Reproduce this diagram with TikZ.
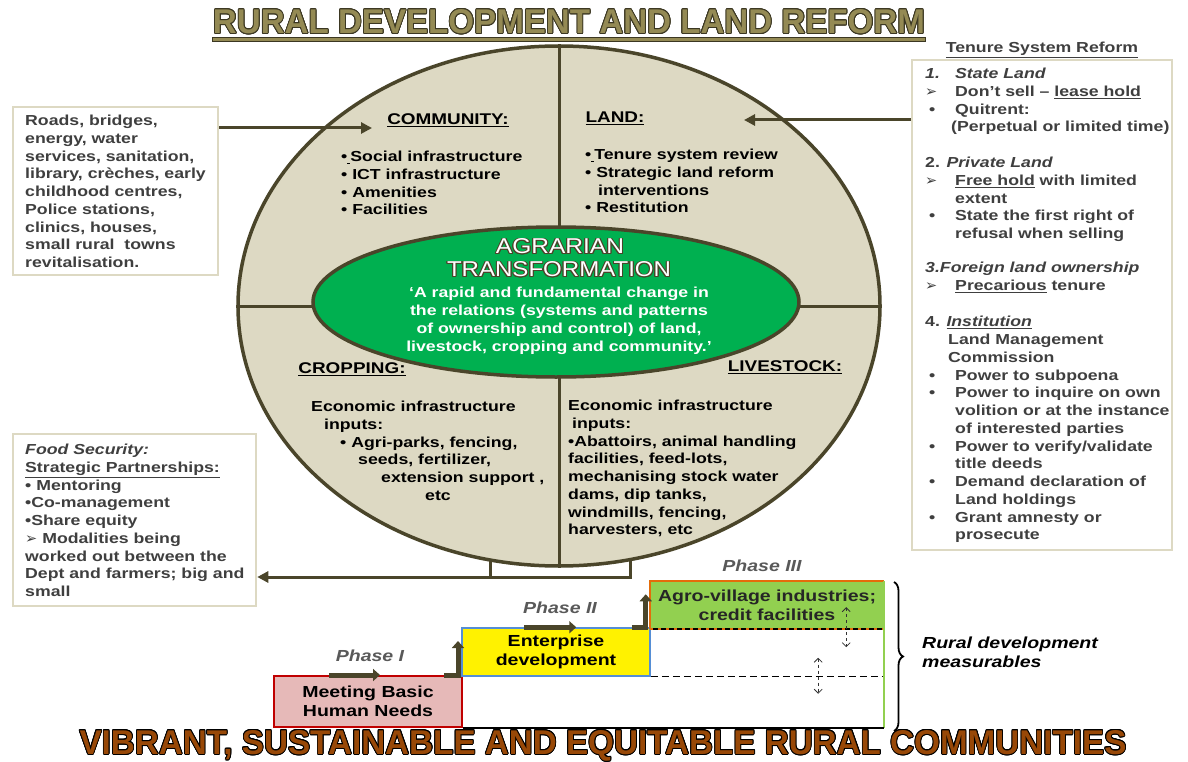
\documentclass[tikz,border=0pt]{standalone}
\usepackage{fontspec}
\setmainfont[FakeStretch=1.22]{Liberation Sans}
\newfontfamily\titlefont{Liberation Sans}
\newfontfamily\symfont{DejaVu Sans}
\usepackage{contour}
\usetikzlibrary{positioning,shapes.geometric,arrows.meta,decorations.pathreplacing}

\definecolor{olivedark}{HTML}{4A452A}
\definecolor{titleline}{HTML}{3B3722}
\definecolor{beige}{HTML}{DDD9C3}
\definecolor{olivetitle}{HTML}{948A54}
\definecolor{rustbrown}{HTML}{984807}
\definecolor{agrogreen}{HTML}{00B050}
\definecolor{limegreen}{HTML}{92D050}
\definecolor{phasepink}{HTML}{E6B9B8}
\definecolor{phasered}{HTML}{C00000}
\definecolor{phaseblue}{HTML}{558ED5}
\definecolor{phaseorange}{HTML}{E46C0A}
\definecolor{boxtext}{HTML}{3F3F3F}
\definecolor{phasegrey}{HTML}{595959}

\newcommand{\bodyfont}{\fontsize{14.5}{17.75}\selectfont\bfseries}
\newcommand{\headfont}{\fontsize{15.5}{18}\selectfont\bfseries}
\newcommand{\phasefont}{\fontsize{16}{19}\selectfont\bfseries}
\newcommand{\lead}[1]{\makebox[30pt][l]{#1}}
\newcommand{\chevron}{{\symfont ➢}}

\begin{document}
\begin{tikzpicture}[x=1pt, y=-1pt,
		panel/.style={draw=beige, line width=2.5pt, fill=white, inner sep=0},
		body/.style={font=\bodyfont, text=boxtext, align=left, inner sep=0},
		inbody/.style={font=\bodyfont, text=black, align=left, inner sep=0},
		head/.style={font=\headfont, text=black, inner sep=0},
		link/.style={draw=olivedark, line width=3pt},
		arr/.style={link, -{Triangle[length=11pt,width=11pt]}},
		stepup/.style={draw=olivedark, line width=5pt, -{Triangle[length=7pt,width=12pt]}},
		phasebox/.style={font=\phasefont, align=center, inner sep=0},
		phaselabel/.style={font=\phasefont\itshape, text=phasegrey, inner sep=0},
		gauge/.style={draw=black!80, dashed, line width=0.8pt, {Straight Barb[length=4pt,width=8pt]}-{Straight Barb[length=4pt,width=8pt]}}]
	\useasboundingbox (0, 0) rectangle (1188, 762);
	\contourlength{0.9pt}

	% title
	\node (title) [inner sep=0] at (569, 22) {\resizebox{712pt}{24pt}{\contour{titleline}{\color{olivetitle}\titlefont\fontsize{33}{33}\selectfont\bfseries RURAL DEVELOPMENT AND LAND REFORM}}};
	\draw [draw=titleline, fill=olivetitle, line width=0.8pt] ([yshift=-3pt]title.south west) rectangle ([yshift=-7pt]title.south east);

	% big oval and its quarters
	\node (oval) [ellipse, draw=olivedark, fill=beige, line width=3.5pt, minimum width=642, minimum height=520, inner sep=0] at (559, 306) {};
	\draw [link] (oval.north) -- (oval.south);
	\draw [link] (oval.west) -- (oval.east);

	% agrarian transformation
	\node (core) [ellipse, draw=olivedark, fill=agrogreen, line width=3.5pt, minimum width=486, minimum height=150, inner sep=0] at (556, 302) {};
	\node (agr1) [inner sep=0] at (560, 247) {\resizebox{128pt}{15pt}{\contour{olivedark}{\color{white}\titlefont\fontsize{21}{21}\selectfont AGRARIAN}}};
	\node (agr2) [inner sep=0] at (559, 270) {\resizebox{224pt}{15pt}{\contour{olivedark}{\color{white}\titlefont\fontsize{21}{21}\selectfont TRANSFORMATION}}};
	\node (quote) [font=\fontsize{14.5}{18}\selectfont\bfseries, text=white, align=center, inner sep=0] at (559, 321) {‘A rapid and fundamental change in\\the relations (systems and patterns\\of ownership and control) of land,\\livestock, cropping and community.’};

	% community
	\node (commhead) [head] at (448, 120) {\underline{COMMUNITY:}};
	\node (commlist) [inbody, anchor=north west] at (341, 151) {•\underline{\hspace{3pt}}Social infrastructure\\• ICT infrastructure\\• Amenities\\• Facilities};

	% land
	\node (landhead) [head] at (615, 118) {\underline{LAND:}};
	\node (landlist) [inbody, anchor=north west] at (585, 149) {•\underline{\hspace{3pt}}Tenure system review\\• Strategic land reform\\\hspace*{13pt}interventions\\• Restitution};

	% cropping
	\node (crophead) [head] at (352, 369) {\underline{CROPPING:}};
	\node (croplist) [inbody, anchor=north west] at (311, 401) {Economic infrastructure\\\hspace*{13pt}inputs:\\\hspace*{29pt}• Agri-parks, fencing,\\\hspace*{47pt}seeds, fertilizer,\\\hspace*{70pt}extension support ,\\\hspace*{114pt}etc};

	% livestock
	\node (livehead) [head] at (785, 367) {\underline{LIVESTOCK:}};
	\node (livelist) [inbody, anchor=north west] at (568, 400) {Economic infrastructure\\\hspace*{4pt}inputs:\\•Abattoirs, animal handling\\facilities, feed-lots,\\mechanising stock water\\dams, dip tanks,\\windmills, fencing,\\harvesters, etc};

	% social infrastructure box
	\node (infra) [panel, minimum width=205, minimum height=168] at (115.5, 191) {};
	\node (infratext) [body, anchor=north west] at (25, 115) {Roads, bridges,\\energy, water\\services, sanitation,\\library, crèches, early\\childhood centres,\\Police stations,\\clinics, houses,\\small rural~ towns\\revitalisation.};
	\coordinate (commin) at (372, 128);
	\draw [arr] (infra.east |- commin) -- (commin);

	% tenure box
	\node (tenure) [panel, minimum width=260, minimum height=490] at (1042, 305) {};
	\node (tenhead) [font=\bodyfont, text=boxtext, inner sep=0, above=1pt of tenure] {\underline{Tenure System Reform}};
	\node (tenuretext) [body, anchor=north west] at (925, 68) {%
		\lead{\itshape 1.}\textit{State Land}\\
		\lead{\chevron}Don’t sell – \underline{lease hold}\\
		\lead{\hspace*{4pt}•}Quitrent:\\
		\hspace*{26pt}(Perpetual or limited time)\\[18pt]
		2. \textit{Private Land}\\
		\lead{\chevron}\underline{Free hold} with limited\\
		\lead{}extent\\
		\lead{\hspace*{4pt}•}State the first right of\\
		\lead{}refusal when selling\\[16pt]
		\textit{3.Foreign land ownership}\\
		\lead{\chevron}\underline{Precarious} tenure\\[19pt]
		4. \underline{\textit{Institution}}\\
		\hspace*{23pt}Land Management\\
		\hspace*{23pt}Commission\\
		\lead{\hspace*{4pt}•}Power to subpoena\\
		\lead{\hspace*{4pt}•}Power to inquire on own\\
		\lead{}volition or at the instance\\
		\lead{}of interested parties\\
		\lead{\hspace*{4pt}•}Power to verify/validate\\
		\lead{}title deeds\\
		\lead{\hspace*{4pt}•}Demand declaration of\\
		\lead{}Land holdings\\
		\lead{\hspace*{4pt}•}Grant amnesty or\\
		\lead{}prosecute};
	\coordinate (landin) at (744, 120);
	\draw [arr] (tenure.west |- landin) -- (landin);

	% food security box
	\node (food) [panel, minimum width=243, minimum height=172] at (134.5, 520) {};
	\node (foodtext) [body, anchor=north west] at (25, 444) {\textit{Food Security:}\\\underline{Strategic Partnerships:}\\• Mentoring\\•Co-management\\•Share equity\\\chevron{} Modalities being\\worked out between the\\Dept and farmers; big and\\small};
	\coordinate (legl) at (490, 560);
	\coordinate (legr) at (630, 560);
	\coordinate (split) at (630, 577);
	\draw [link] (legl) -- (legl |- split);
	\draw [arr] (legr) -- (split) -- (food.east |- split);

	% phases
	\node (p1) [phasebox, draw=phasered, fill=phasepink, line width=2pt, minimum width=188, minimum height=51] at (368, 701.5) {Meeting Basic\\Human Needs};
	\node (p2) [phasebox, draw=phaseblue, fill=yellow, line width=1.5pt, minimum width=188, minimum height=48] at (556, 652) {Enterprise\\development};
	\node (p3) [phasebox, fill=limegreen, text=black!85, minimum width=234, minimum height=48] at (767, 605) {Agro-village industries;\\credit facilities};
	\draw [phaseorange, line width=2pt] (p3.south west) -- (p3.north west) -- (p3.north east);
	\draw [black, line width=1.5pt] (p3.south west) -- (p3.south east);
	\draw [phaseorange, line width=1.5pt, dash pattern=on 3pt off 5pt] (p3.south west) -- (p3.south east);
	\coordinate (rim) at (p3.south east |- p2.south);
	\draw [black, line width=1.2pt, dash pattern=on 7pt off 4pt] (p2.south east) -- (rim);
	\draw [limegreen, line width=1.5pt] (p3.north east) -- (p3.south east |- p1.south);
	\draw [black, line width=1.5pt] (p1.south east) -- (p3.south east |- p1.south);

	\node (ph1) [phaselabel] at (370, 656) {Phase I};
	\node (ph2) [phaselabel] at (560, 608) {Phase II};
	\node (ph3) [phaselabel] at (762, 566) {Phase III};

	\draw [stepup] ([xshift=56pt]p1.north west) -- ([xshift=107pt]p1.north west);
	\draw [stepup] ([xshift=63pt]p2.north west) -- ([xshift=115pt]p2.north west);
	\draw [stepup] ([xshift=-19pt]p1.north east) -| ([xshift=-5pt, yshift=34pt]p1.north east);
	\draw [stepup] ([xshift=-19pt]p2.north east) -| ([xshift=-5pt, yshift=33pt]p2.north east);

	\draw [gauge] ([xshift=-38pt, yshift=22pt]p3.south east) -- ([xshift=-38pt, yshift=-18pt]p3.south east);
	\draw [gauge] ([xshift=-66pt, yshift=19pt]rim) -- ([xshift=-66pt, yshift=-17pt]rim);

	% measurables
	\coordinate (bracetop) at (894, 582);
	\coordinate (bracebot) at (894, 731);
	\draw [black, line width=1.8pt, decorate, decoration={brace, amplitude=9pt}] (bracetop) -- (bracebot);
	\node (rdm) [font=\phasefont\itshape, align=left, inner sep=0, anchor=west] at (922, 652) {Rural development\\measurables};

	% motto
	\node (motto) [inner sep=0] at (603, 746) {\resizebox{1047pt}{24pt}{\contour{black}{\color{rustbrown}\titlefont\fontsize{35}{35}\selectfont\bfseries VIBRANT, SUSTAINABLE AND EQUITABLE RURAL COMMUNITIES}}};
\end{tikzpicture}
\end{document}
